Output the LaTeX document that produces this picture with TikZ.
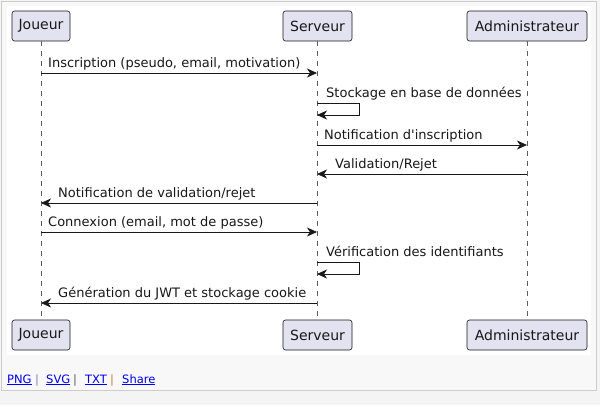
\documentclass[tikz,border=0pt]{standalone}
\usepackage{fontspec}
\setmainfont{DejaVu Sans}[Ligatures=TeXOff]
\usetikzlibrary{arrows.meta}
\definecolor{outerbg}{HTML}{F4F4F4}
\definecolor{framebg}{HTML}{F8F8F8}
\definecolor{framebd}{HTML}{CCCCCC}
\definecolor{partfill}{HTML}{E2E2F0}
\definecolor{ink}{HTML}{181818}
\definecolor{linkblue}{HTML}{0000EE}
\definecolor{sepgray}{HTML}{7F8A99}
\definecolor{sepbrown}{HTML}{C08040}
\tikzset{
  part/.style={draw=ink, line width=0.6pt, fill=partfill, rounded corners=2.5pt,
    minimum height=30pt, inner sep=0pt, font=\fontsize{14}{16}\selectfont, text=ink},
  life/.style={draw=ink!70, line width=0.5pt, dash pattern=on 5pt off 5pt},
  msg/.style={draw=ink, line width=0.8pt, -{Stealth[length=10pt,width=9pt,inset=3pt]}},
  lbl/.style={font=\fontsize{13}{15}\selectfont, text=ink, inner sep=0pt},
  lnk/.style={font=\fontsize{11.5}{13}\selectfont, text=linkblue, inner sep=0pt, anchor=base west},
  sep/.style={font=\fontsize{11.5}{13}\selectfont, inner sep=0pt, anchor=base}
}
\begin{document}
\begin{tikzpicture}[x=1pt,y=-1pt]
\useasboundingbox (0,0) rectangle (600,405);
\fill[outerbg] (0,0) rectangle (600,405);
\filldraw[fill=framebg, draw=framebd, line width=1pt] (1,1) rectangle (596.5,390);
\fill[white] (7,6) rectangle (591,355);

% participants
\node[part, minimum width=58pt] (jt) at (41,26) {Joueur};
\node[part, minimum width=69pt] (st) at (317.5,26) {Serveur};
\node[part, minimum width=120pt] (at) at (527,26) {Administrateur};
\node[part, minimum width=58pt] (jb) at (41,335) {Joueur};
\node[part, minimum width=69pt] (sb) at (317.5,335) {Serveur};
\node[part, minimum width=120pt] (ab) at (527,335) {Administrateur};

% lifelines
\draw[life] (jt.south) -- (jb.north);
\draw[life] (st.south) -- (sb.north);
\draw[life] (at.south) -- (ab.north);

% message end points
\coordinate (j1) at (41,73);   \coordinate (s1) at (317,73);
\coordinate (s2a) at (317,103); \coordinate (s2b) at (317,115);
\coordinate (s3) at (317,145); \coordinate (a3) at (527,145);
\coordinate (a4) at (527,174); \coordinate (s4) at (317,174);
\coordinate (s5) at (317,203); \coordinate (j5) at (41,203);
\coordinate (j6) at (41,232);  \coordinate (s6) at (317,232);
\coordinate (s7a) at (317,262); \coordinate (s7b) at (317,274);
\coordinate (s8) at (317,303); \coordinate (j8) at (41,303);

% messages
\draw[msg] (j1) -- (s1);
\node[lbl, anchor=base west] (m1) at (48,67) {Inscription (pseudo, email, motivation)};

\draw[msg] (s2a) -- ++(42,0) |- (s2b);
\node[lbl, anchor=base west] (m2) at (326,97) {Stockage en base de données};

\draw[msg] (s3) -- (a3);
\node[lbl, anchor=base west] (m3) at (324,139) {Notification d'inscription};

\draw[msg] (a4) -- (s4);
\node[lbl, anchor=base west] (m4) at (335,168) {Validation/Rejet};

\draw[msg] (s5) -- (j5);
\node[lbl, anchor=base west] (m5) at (58,197) {Notification de validation/rejet};

\draw[msg] (j6) -- (s6);
\node[lbl, anchor=base west] (m6) at (48,226) {Connexion (email, mot de passe)};

\draw[msg] (s7a) -- ++(42,0) |- (s7b);
\node[lbl, anchor=base west] (m7) at (326,256) {Vérification des identifiants};

\draw[msg] (s8) -- (j8);
\node[lbl, anchor=base west] (m8) at (58,297) {Génération du JWT et stockage cookie};

% links
\node[lnk] (png) at (7,383) {\underline{PNG}};
\node[sep, text=sepgray] (p1) at (37,383) {|};
\node[lnk] (svg) at (46,383) {\underline{SVG}};
\node[sep, text=ink!70] (p2) at (75,383) {|};
\node[lnk] (txt) at (85,383) {\underline{TXT}};
\node[sep, text=sepbrown] (p3) at (112,383) {|};
\node[lnk] (share) at (122,383) {\underline{Share}};
\end{tikzpicture}
\end{document}
